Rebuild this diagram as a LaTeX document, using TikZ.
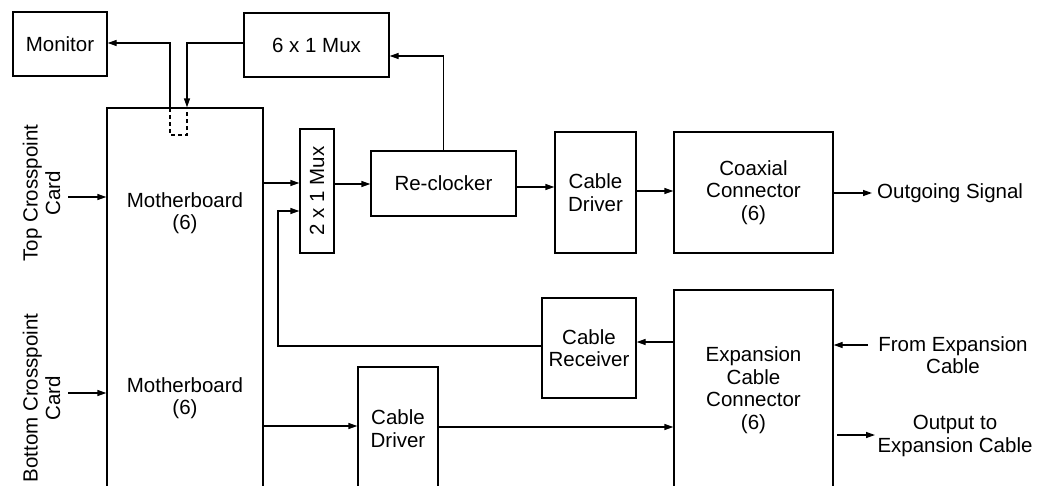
\documentclass[tikz,border=0pt]{standalone}
\usepackage{fontspec}
\setmainfont{Liberation Sans}
\usetikzlibrary{arrows.meta}
\begin{document}
\begin{tikzpicture}[x=1pt,y=-1pt,
  every node/.style={font=\fontsize{20.5}{22.5}\selectfont, align=center},
  box/.style={draw, line width=1.3pt, inner sep=0pt},
  arr/.style={line width=1.3pt, -{Triangle[length=9pt,width=6pt]}},
  ln/.style={line width=1.3pt}]
\useasboundingbox (0,0) rectangle (1042,485);
% boxes
\node[box, minimum width=94, minimum height=64] (mon) at (60,44) {Monitor};
\node[box, minimum width=145, minimum height=64] (mux6) at (316.5,45) {6 x 1 Mux};
\node[box, minimum width=156, minimum height=382] (mb) at (185,299) {};
\node (mbt) at (185,213) {Motherboard\\(6)};
\node (mbb) at (185,398) {Motherboard\\(6)};
\node[box, minimum width=34, minimum height=124] (mux2) at (317,191) {};
\node[rotate=90] (mux2l) at (mux2) {2 x 1 Mux};
\node[box, minimum width=145, minimum height=65] (reclk) at (443.5,183.5) {Re-clocker};
\node[box, minimum width=81, minimum height=121] (cd1) at (595.5,192.5) {Cable\\Driver};
\node[box, minimum width=159, minimum height=121] (coax) at (753.5,192.5) {Coaxial\\Connector\\(6)};
\node[box, minimum width=94, minimum height=100] (crx) at (589,348) {Cable\\Receiver};
\node[box, minimum width=159, minimum height=200] (exp) at (753.5,390) {Expansion\\Cable\\Connector\\(6)};
\node[box, minimum width=80, minimum height=123] (cd2) at (398,428.5) {Cable\\Driver};
% outside labels
\node[rotate=90, inner sep=0pt] (tcp) at (41.5,193) {Top Crosspoint\\Card};
\node[rotate=90, inner sep=0pt] (bcp) at (41.5,398) {Bottom Crosspoint\\Card};
\node[anchor=west, inner sep=0pt] (out) at (877,193) {Outgoing Signal};
\node[inner sep=0pt] (from) at (953,355) {From Expansion\\Cable};
\node[inner sep=0pt] (out2) at (955,436) {Output to\\Expansion Cable};
\coordinate (out2in) at (875,435);
% dashed stub inside motherboard
\draw[ln, dashed, dash pattern=on 4pt off 3pt] (170,108) -- (170,135) -- (187,135) -- (187,108);
% connectors
\draw[arr] (mb.north -| 170,0) -- (170,43) -- (mon.east |- 0,43);
\draw[arr] (mux6.west |- 0,43) -- (187,43) -- (mb.north -| 187,0);
\draw[arr] (reclk.north) -- (reclk.north |- 0,56) -- (mux6.east |- 0,56);
\draw[arr] (68,197) -- (mb.west |- 0,197);
\draw[arr] (68,393) -- (mb.west |- 0,393);
\draw[arr] (mb.east |- 0,183) -- (mux2.west |- 0,183);
\draw[arr] (crx.west |- 0,346) -- (278,346) -- (278,211) -- (mux2.west |- 0,211);
\draw[arr] (mux2.east |- 0,184) -- (reclk.west |- 0,184);
\draw[arr] (reclk.east |- 0,187) -- (cd1.west |- 0,187);
\draw[arr] (cd1.east |- 0,191) -- (coax.west |- 0,191);
\draw[arr] (coax.east |- 0,193) -- (872,193);
\draw[arr] (exp.west |- 0,342) -- (crx.east |- 0,342);
\draw[arr] (868,345) -- (exp.east |- 0,345);
\draw[arr] (837,435) -- (out2in);
\draw[arr] (mb.east |- 0,426) -- (cd2.west |- 0,426);
\draw[arr] (cd2.east |- 0,427) -- (exp.west |- 0,427);
\end{tikzpicture}
\end{document}
